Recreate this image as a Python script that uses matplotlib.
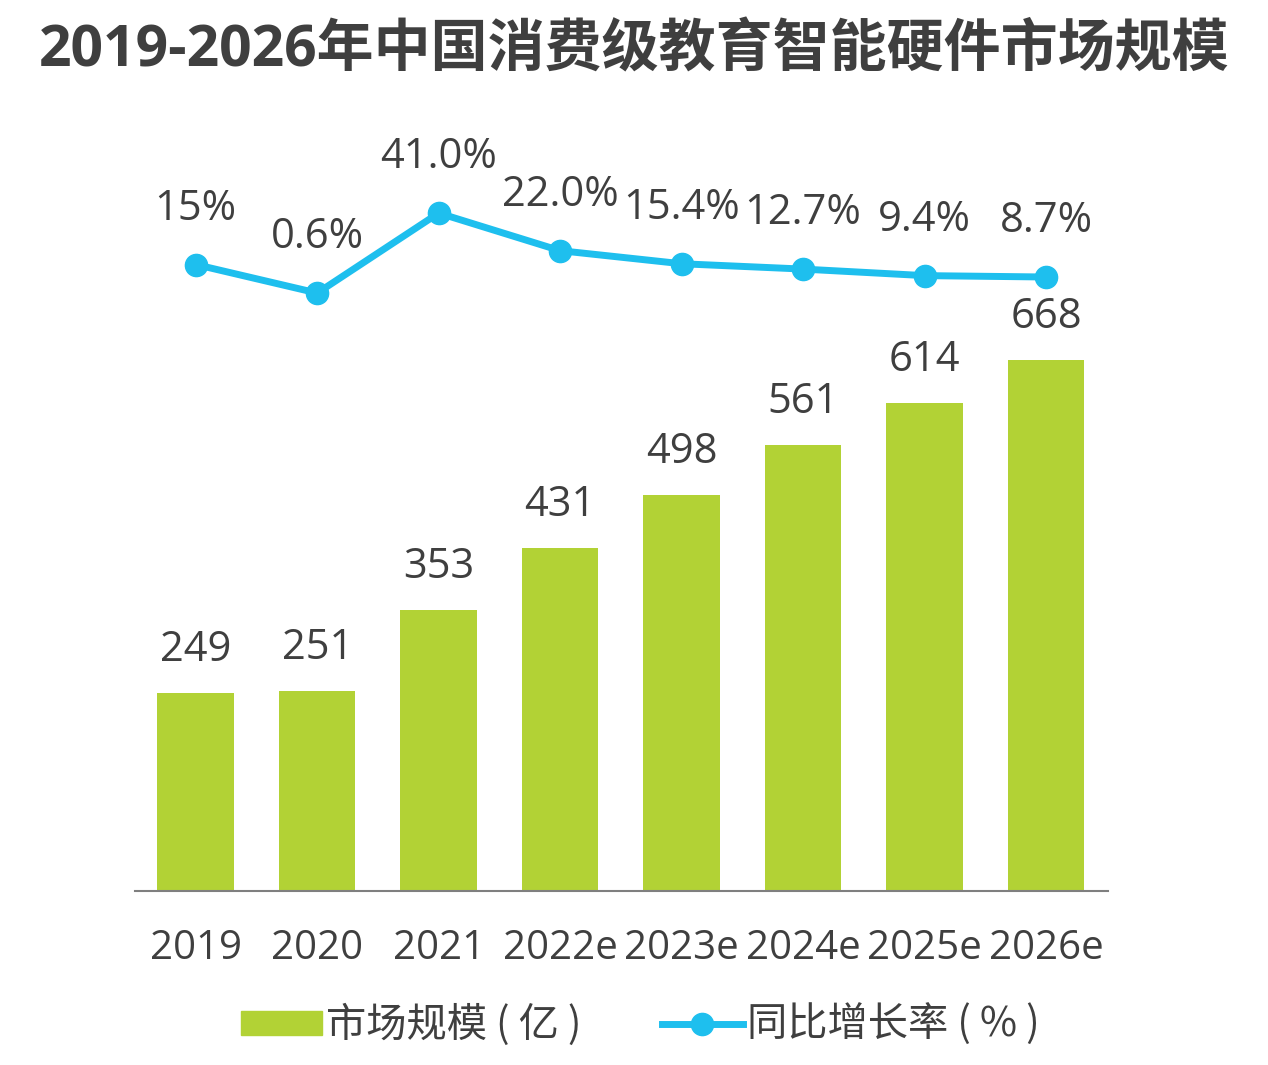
import matplotlib
matplotlib.use('Agg')
import matplotlib.pyplot as plt
from matplotlib.patches import Patch
from matplotlib.lines import Line2D
import numpy as np

# 数据
years = ['2019', '2020', '2021', '2022e', '2023e', '2024e', '2025e', '2026e']
market = [249, 251, 353, 431, 498, 561, 614, 668]
growth = [15, 0.6, 41.0, 22.0, 15.4, 12.7, 9.4, 8.7]
growth_labels = ['15%', '0.6%', '41.0%', '22.0%', '15.4%', '12.7%', '9.4%', '8.7%']

green = '#B2D235'
cyan = '#1EBFEE'
grey = '#3F3F3F'

plt.rcParams['font.family'] = ['Open Sans', 'Noto Sans CJK SC', 'DejaVu Sans']

fig = plt.figure(figsize=(12.68, 10.65), dpi=100)
ax = fig.add_axes([135 / 1268, 1 - 891 / 1065, (1108 - 135) / 1268, 791 / 1065])

x = np.arange(len(years))
ax.bar(x, market, width=0.63, color=green, zorder=2)
ax.set_xlim(-0.5, 7.51)
ax.set_ylim(0, 995)

for xi, v in zip(x, market):
    ax.annotate(str(v), (xi, v), xytext=(0, 16), textcoords='offset points',
                ha='center', va='bottom', fontsize=30, color=grey)

for s in ['top', 'right', 'left']:
    ax.spines[s].set_visible(False)
ax.spines['bottom'].set_color('#7f7f7f')
ax.spines['bottom'].set_linewidth(1.5)
ax.set_yticks([])
ax.set_xticks(x)
ax.set_xticklabels(years, fontsize=29, color=grey)
ax.tick_params(axis='x', length=0, pad=27)

# 增长率折线
ax2 = ax.twinx()
ax2.set_ylim(-301.4, 98.1)
ax2.axis('off')
ax2.plot(x, growth, color=cyan, lw=5, marker='o', ms=16, zorder=3)
for xi, g, lab in zip(x, growth, growth_labels):
    ax2.annotate(lab, (xi, g), xytext=(0, 25), textcoords='offset points',
                 ha='center', va='bottom', fontsize=30, color=grey)

fig.text(0.5, 0.952, '2019-2026年中国消费级教育智能硬件市场规模', ha='center', va='center',
         fontsize=41, fontweight='bold', color=grey,
         family=['Open Sans', 'Noto Sans CJK SC'])

# 图例
handles = [Patch(color=green), Line2D([], [], color=cyan, lw=5, marker='o', ms=16)]
leg = fig.legend(handles, ['市场规模 ( 亿 )', '同比增长率 ( % )'], loc='center',
                 bbox_to_anchor=(0.505, 1 - 1025 / 1065), ncol=2, frameon=False,
                 fontsize=29, handlelength=2.0, handleheight=0.55, columnspacing=2.0,
                 handletextpad=0.1)
for t in leg.get_texts():
    t.set_color(grey)
    t.set_family(['Noto Sans CJK SC'])

fig.savefig('out.png', dpi=100)
